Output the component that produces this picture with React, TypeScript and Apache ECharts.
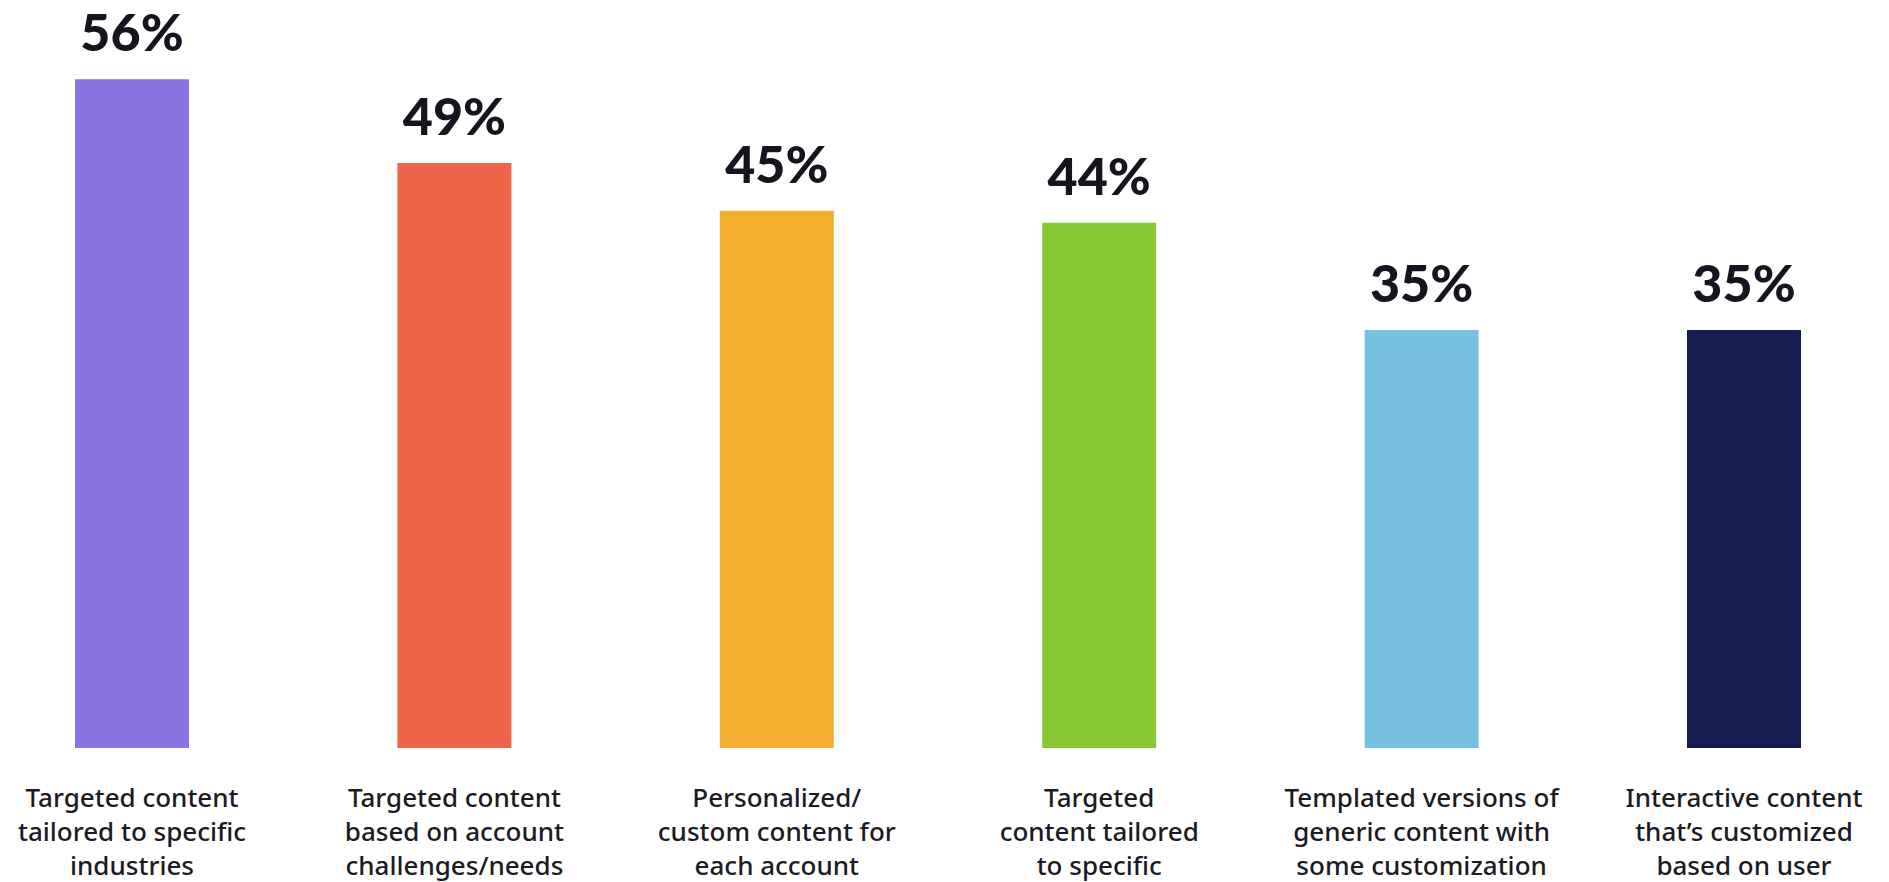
import React, { useEffect, useRef } from "react";
import * as echarts from "echarts";

const categories = [
  "Targeted content\ntailored to specific\nindustries",
  "Targeted content\nbased on account\nchallenges/needs",
  "Personalized/\ncustom content for\neach account",
  "Targeted\ncontent tailored\nto specific",
  "Templated versions of\ngeneric content with\nsome customization",
  "Interactive content\nthat’s customized\nbased on user",
];
const values = [56, 49, 45, 44, 35, 35];
const colors = ["#8a73e0", "#f0654a", "#f4ae2f", "#86c935", "#78c0e0", "#141c50"];

export default function App() {
  const ref = useRef<HTMLDivElement>(null);
  useEffect(() => {
    if (!ref.current) return;
    const chart = echarts.init(ref.current, undefined, { renderer: "svg" });
    chart.setOption({
      animation: false,
      backgroundColor: "#ffffff",
      grid: { left: 132, right: 145, top: 31.6, bottom: 134, containLabel: false },
      xAxis: {
        type: "category",
        data: categories,
        boundaryGap: false,
        axisLine: { show: false },
        axisTick: { show: false },
        axisLabel: {
          interval: 0,
          margin: 32,
          color: "#1b1b24",
          fontFamily: "Noto Sans",
          fontWeight: 500,
          fontSize: 26,
          lineHeight: 34,
        },
      },
      yAxis: {
        type: "value",
        min: 0,
        max: 60,
        show: false,
        splitLine: { show: false },
      },
      series: [
        {
          type: "bar",
          barWidth: 114,
          data: values.map((v, i) => ({ value: v, itemStyle: { color: colors[i] } })),
          label: {
            show: true,
            position: "top",
            distance: 22,
            formatter: "{c}%",
            color: "#15151f",
            fontFamily: "Lato",
            fontWeight: 900,
            fontSize: 52,
          },
        },
      ],
    });
    return () => chart.dispose();
  }, []);
  return (
    <div
      ref={ref}
      style={{ position: "fixed", left: 0, top: 0, width: 1889, height: 882 }}
    />
  );
}
